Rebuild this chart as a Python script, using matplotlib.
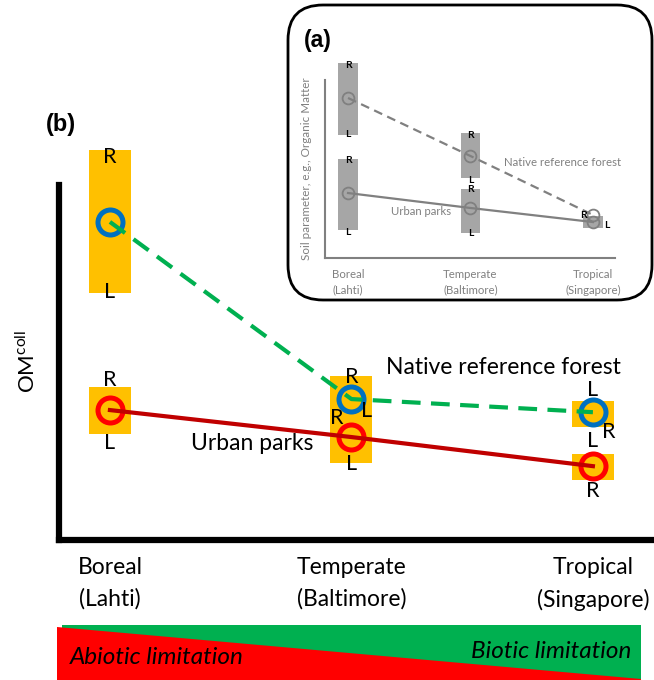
import matplotlib
matplotlib.use("Agg")
import matplotlib.pyplot as plt
from matplotlib.patches import FancyBboxPatch, Polygon, Rectangle
import numpy as np

plt.rcParams['font.family'] = ['Lato', 'DejaVu Sans']
plt.rcParams['mathtext.fontset'] = 'custom'
plt.rcParams['mathtext.rm'] = 'Lato'

# Sites along the climate gradient
sites = ['Boreal\n(Lahti)', 'Temperate\n(Baltimore)', 'Tropical\n(Singapore)']

# (b) observed OM (arbitrary units), with range of values
forest_om = [8.96, 3.97, 3.60]
forest_lo = [6.96, 3.38, 3.18]
forest_hi = [10.99, 4.62, 3.92]
parks_om = [3.66, 2.90, 2.08]
parks_lo = [2.99, 2.17, 1.69]
parks_hi = [4.31, 3.52, 2.42]

# (a) hypothesis panel
forest_a = [8.99, 5.73, 2.42]
forest_a_lo = [6.91, 4.49, 1.69]
forest_a_hi = [10.96, 7.02, 2.36]
parks_a = [3.65, 2.81, 2.02]
parks_a_lo = [1.57, 1.40, 1.69]
parks_a_hi = [5.56, 3.88, 2.36]

W, H = 654, 680
fig = plt.figure(figsize=(W / 100, H / 100), dpi=100)

# Overlay in pixel coordinates for decorations
deco = fig.add_axes([0, 0, 1, 1])
deco.set_xlim(0, W)
deco.set_ylim(H, 0)
deco.axis('off')

# Bottom gradient bar: biotic vs abiotic limitation
deco.add_patch(Rectangle((62, 625), 579, 56, color='#00B050', lw=0))
deco.add_patch(Polygon([(57, 627), (641, 679), (641, 681), (57, 681)], closed=True, color='#FF0000', lw=0))
deco.text(70, 657, 'Abiotic limitation', fontsize=17.5, style='italic', va='center', ha='left')
deco.text(631, 652, 'Biotic limitation', fontsize=17.5, style='italic', va='center', ha='right')

# Rounded inset frame
deco.add_patch(FancyBboxPatch((288 + 35, 5 + 35), 364 - 70, 295 - 70,
                              boxstyle='round,pad=35', fc='white', ec='black', lw=2))

deco.text(46, 125, '(b)', fontsize=17, fontweight='bold', family='Liberation Sans', va='center')
deco.text(304, 40, '(a)', fontsize=16.5, fontweight='bold', family='Liberation Sans', va='center')


def add_rl(ax, x, y, labels, size, weight='normal'):
    for txt, dx, dy in labels:
        ax.annotate(txt, (x, y), xytext=(dx, dy), textcoords='offset pixels',
                    ha='center', va='center', fontsize=size, fontweight=weight,
                    annotation_clip=False, zorder=6)


# ---- Panel (b) ----
ax = fig.add_axes([58.5 / W, (H - 540) / H, (W - 58.5) / W, 426 / H])
x = np.arange(len(sites))
ax.set_xlim(-0.213, 2.253)
ax.set_ylim(0, 12)
for s in ['top', 'right']:
    ax.spines[s].set_visible(False)
ax.spines['left'].set_linewidth(4.5)
ax.spines['bottom'].set_linewidth(4.5)
ax.spines['left'].set_bounds(0, 10)
ax.set_yticks([])
ax.set_xticks(x)
ax.set_xticklabels(sites, fontsize=16.5, linespacing=1.6)
ax.tick_params(axis='x', length=0, pad=12)
ax.patch.set_alpha(0)

bw = 0.174
ax.bar(x, np.array(forest_hi) - np.array(forest_lo), bottom=forest_lo, width=bw,
       color='#FFC000', clip_on=False, zorder=1)
ax.bar(x, np.array(parks_hi) - np.array(parks_lo), bottom=parks_lo, width=bw,
       color='#FFC000', clip_on=False, zorder=1)
ax.plot(x, forest_om, ls='none', marker='o', ms=18, mfc='none', mec='#0070C0', mew=3.6, zorder=3, clip_on=False)
ax.plot(x, parks_om, ls='none', marker='o', ms=18, mfc='none', mec='#FF0000', mew=3.6, zorder=3, clip_on=False)
ax.plot(x, forest_om, color='#00B050', lw=3, dashes=(4.5, 2.5), zorder=4, clip_on=False)
ax.plot(x, parks_om, color='#C00000', lw=3, zorder=4, clip_on=False)

fs = 15.5
add_rl(ax, x[0], forest_om[0], [('R', 0, 65), ('L', 0, -70)], fs)
add_rl(ax, x[0], parks_om[0], [('R', 0, 30), ('L', 0, -33)], fs)
add_rl(ax, x[1], forest_om[1], [('R', 0, 22), ('L', 15, -12)], fs)
add_rl(ax, x[1], parks_om[1], [('R', -15, 19), ('L', 0, -27)], fs)
add_rl(ax, x[2], forest_om[2], [('L', 0, 22), ('R', 16, -20)], fs)
add_rl(ax, x[2], parks_om[2], [('L', 0, 25), ('R', 0, -25)], fs)

ax.text(1.63, 4.85, 'Native reference forest', fontsize=16.5, ha='center', va='center')
ax.text(0.59, 2.73, 'Urban parks', fontsize=16.5, ha='center', va='center')
ax.set_ylabel(r'OM$^{\rm coll}$', fontsize=16)
ax.yaxis.set_label_coords(-0.033, 0.42)

# ---- Panel (a) inset ----
grey = '#808080'
axa = fig.add_axes([325 / W, (H - 258) / H, 290 / W, 178 / H])
axa.set_xlim(-0.188, 2.18)
axa.set_ylim(0, 10)
for s in ['top', 'right']:
    axa.spines[s].set_visible(False)
for s in ['left', 'bottom']:
    axa.spines[s].set_color(grey)
    axa.spines[s].set_linewidth(1.5)
axa.set_yticks([])
axa.set_xticks(x)
axa.set_xticklabels(sites, fontsize=8.2, color=grey, linespacing=1.5)
axa.tick_params(axis='x', length=0, pad=8)
axa.patch.set_alpha(0)

bwa = 0.163
axa.bar(x, np.array(forest_a_hi) - np.array(forest_a_lo), bottom=forest_a_lo, width=bwa,
        color='#A6A6A6', clip_on=False, zorder=1)
axa.bar(x, np.array(parks_a_hi) - np.array(parks_a_lo), bottom=parks_a_lo, width=bwa,
        color='#A6A6A6', clip_on=False, zorder=1)
axa.plot(x, forest_a, ls='none', marker='o', ms=8.5, mfc='none', mec=grey, mew=1.3, zorder=3, clip_on=False)
axa.plot(x, parks_a, ls='none', marker='o', ms=8.5, mfc='none', mec=grey, mew=1.3, zorder=3, clip_on=False)
axa.plot(x, forest_a, color=grey, lw=1.6, dashes=(4, 2.5), zorder=4, clip_on=False)
axa.plot(x, parks_a, color=grey, lw=1.6, zorder=4, clip_on=False)

fa = 7.5
add_rl(axa, x[0], forest_a[0], [('R', 0, 32), ('L', 0, -37)], fa, 'bold')
add_rl(axa, x[0], parks_a[0], [('R', 0, 33), ('L', 0, -39)], fa, 'bold')
add_rl(axa, x[1], forest_a[1], [('R', 0, 21), ('L', 0, -24)], fa, 'bold')
add_rl(axa, x[1], parks_a[1], [('R', 0, 18), ('L', 0, -26)], fa, 'bold')
add_rl(axa, x[2], forest_a[2], [('R', -10, -1)], fa, 'bold')
add_rl(axa, x[2], parks_a[2], [('L', 14, -3)], fa, 'bold')

axa.text(1.75, 5.39, 'Native reference forest', fontsize=8.2, color=grey, ha='center', va='center')
axa.text(0.6, 2.59, 'Urban parks', fontsize=8.2, color=grey, ha='center', va='center')
axa.set_ylabel('Soil parameter, e.g., Organic Matter', fontsize=8.4, color=grey)
axa.yaxis.set_label_coords(-0.045, 0.5)

fig.savefig('out.png', dpi=100)
